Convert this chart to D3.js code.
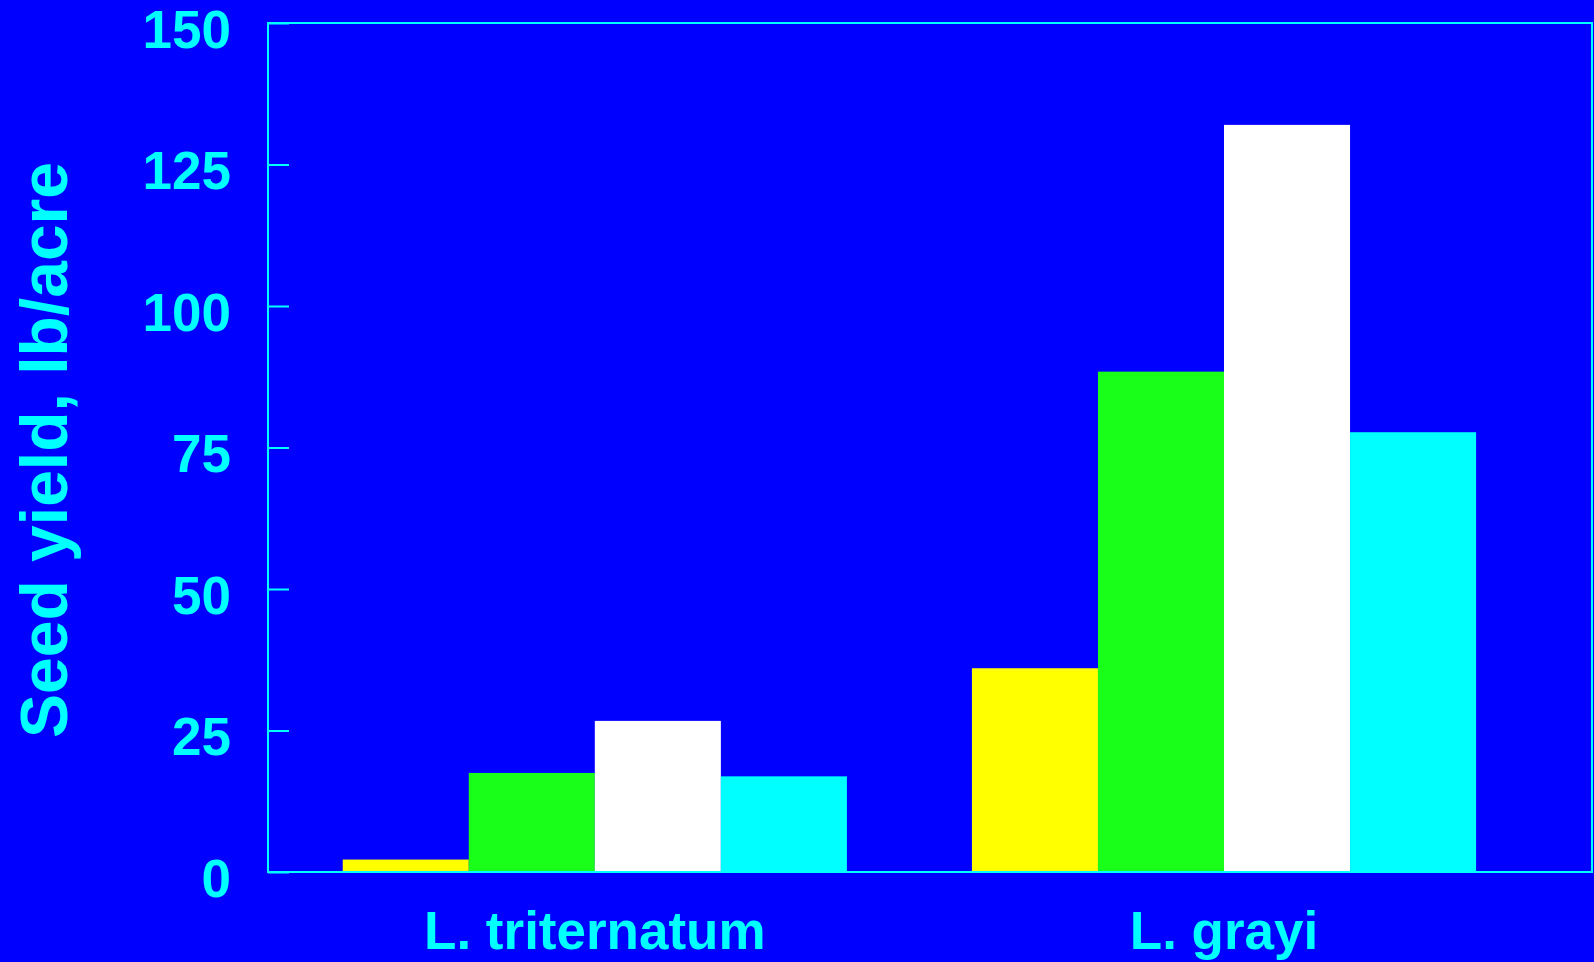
<!DOCTYPE html>
<html>
<head>
<meta charset="utf-8">
<script src="https://cdn.jsdelivr.net/npm/d3@7"></script>
<style>
  html, body { margin: 0; padding: 0; background: #0000FF; }
  svg { display: block; }
  text { font-family: "Liberation Sans", Arial, sans-serif; font-weight: bold; fill: #00FFFF; }
</style>
</head>
<body>
<svg id="chart" width="1594" height="962"></svg>
<script>
// Species (groups along the x axis)
const categories = ["L. triternatum", "L. grayi"];
// Four treatments within each species
const series = ["s1", "s2", "s3", "s4"];
const seriesColors = ["#FFFF00", "#19FF19", "#FFFFFF", "#00FFFF"];
// Seed yield, lb/acre, per species, in series order
const triternatumValues = [2.2, 17.5, 26.7, 16.9];
const grayiValues = [36.0, 88.4, 132.0, 77.7];
const yTicks = [0, 25, 50, 75, 100, 125, 150];
const yTitle = "Seed yield, lb/acre";

const values = [triternatumValues, grayiValues];

const svg = d3.select("#chart");
const W = 1594, H = 962;
const plot = { left: 268, top: 23, right: 1592, bottom: 872 };
const axisColor = "#00FFFF";

svg.append("rect").attr("width", W).attr("height", H).attr("fill", "#0000FF");

const y = d3.scaleLinear().domain([0, 150]).range([plot.bottom, plot.top]);

const x0 = d3.scaleBand()
  .domain(categories)
  .range([plot.left, plot.right])
  .paddingInner(0.1987)
  .paddingOuter(0.1515)
  .align(0.392);

const x1 = d3.scaleBand()
  .domain(series)
  .range([0, x0.bandwidth()])
  .padding(0);

const color = d3.scaleOrdinal().domain(series).range(seriesColors);

// Bars
const groups = svg.append("g").selectAll("g")
  .data(categories)
  .join("g")
  .attr("transform", d => `translate(${x0(d)},0)`);

groups.selectAll("rect")
  .data((d, i) => series.map((s, j) => ({ s, v: values[i][j] })))
  .join("rect")
  .attr("x", d => x1(d.s))
  .attr("width", x1.bandwidth())
  .attr("y", d => y(d.v))
  .attr("height", d => y(0) - y(d.v))
  .attr("fill", d => color(d.s));

// Y axis: inward ticks with large labels
const yAxis = d3.axisLeft(y)
  .tickValues(yTicks)
  .tickSize(-21)
  .tickPadding(0)
  .tickFormat(d3.format("d"));

const gy = svg.append("g")
  .attr("transform", `translate(${plot.left},0)`)
  .call(yAxis);
gy.select(".domain").remove();
gy.selectAll(".tick line").attr("stroke", axisColor).attr("stroke-width", 2);
gy.selectAll(".tick text")
  .attr("x", -37)
  .attr("dy", null)
  .attr("y", 24)
  .attr("text-anchor", "end")
  .style("font-size", "53px")
  .style("font-family", "'Liberation Sans', Arial, sans-serif")
  .style("font-weight", "bold")
  .attr("fill", axisColor);

// Plot frame
svg.append("rect")
  .attr("x", plot.left)
  .attr("y", plot.top)
  .attr("width", plot.right - plot.left)
  .attr("height", plot.bottom - plot.top)
  .attr("fill", "none")
  .attr("stroke", axisColor)
  .attr("stroke-width", 2);

// X axis category labels
const xAxis = d3.axisBottom(x0).tickSize(0).tickPadding(0);
const gx = svg.append("g")
  .attr("transform", `translate(0,${plot.bottom})`)
  .call(xAxis);
gx.select(".domain").remove();
gx.selectAll(".tick text")
  .attr("y", 77)
  .attr("dy", null)
  .style("font-size", "53px")
  .style("font-family", "'Liberation Sans', Arial, sans-serif")
  .style("font-weight", "bold")
  .attr("fill", axisColor);

// Y axis title
svg.append("text")
  .attr("transform", `translate(67,450) rotate(-90)`)
  .attr("text-anchor", "middle")
  .style("font-size", "66px")
  .text(yTitle);
</script>
</body>
</html>
